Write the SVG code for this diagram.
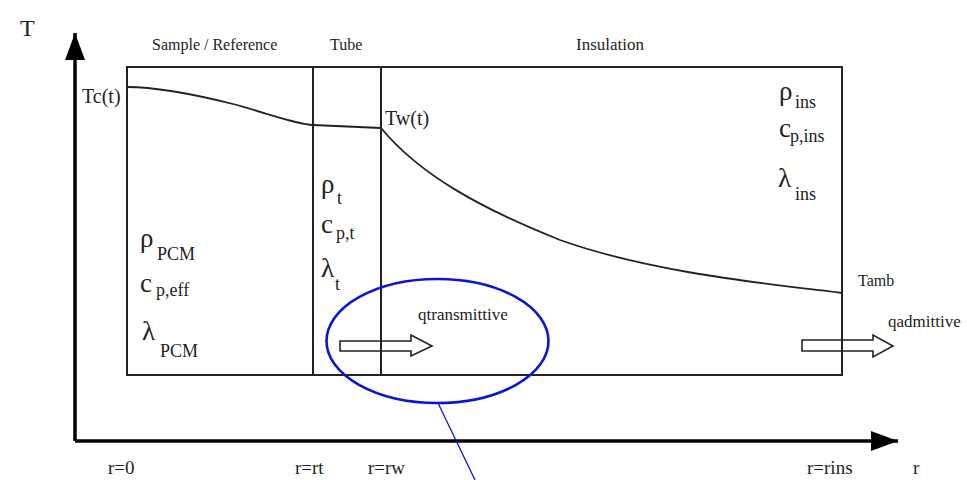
<svg xmlns="http://www.w3.org/2000/svg" width="967" height="480" viewBox="0 0 967 480">
<style>
text{font-family:"Liberation Serif","Times New Roman","DejaVu Serif",serif;fill:#222}
.hd{font-size:16px}
.lb{font-size:20px}
.sym{font-size:27px}
.sub{font-size:18px}
.q{font-size:17px}
.ax{font-size:19px}
.frame{fill:none;stroke:#222;stroke-width:2}
.curve{fill:none;stroke:#222;stroke-width:1.8}
.axis{fill:none;stroke:#000;stroke-width:3.5}
.flow{fill:none;stroke:#222;stroke-width:1.6;stroke-linejoin:miter}
.hl{fill:none;stroke:#0a14d8}
</style>
<defs>
<marker id="ah" markerUnits="userSpaceOnUse" markerWidth="30" markerHeight="22" refX="27" refY="10" orient="auto">
<path d="M0,0 L27,10 L0,20 Z" fill="#000"/>
</marker>
</defs>

<g id="axes">
<line class="axis" x1="75" y1="441" x2="75" y2="33" marker-end="url(#ah)"/>
<line class="axis" x1="75" y1="441" x2="898" y2="441" marker-end="url(#ah)"/>
<text x="20" y="36" style="font-size:24px">T</text>
<text x="913" y="474" class="ax">r</text>
</g>

<g id="sample">
<rect class="frame" x="127" y="67" width="186" height="308"/>
<text x="152" y="50" class="hd">Sample / Reference</text>
<text x="140" y="247" class="sym">ρ</text><text x="157" y="260" class="sub">PCM</text>
<text x="140" y="292" class="sym">c</text><text x="156" y="296" class="sub">p,eff</text>
<text x="142" y="340" class="sym">λ</text><text x="160" y="357" class="sub">PCM</text>
</g>

<g id="tube">
<rect class="frame" x="313" y="67" width="68" height="308"/>
<text x="330" y="50" class="hd">Tube</text>
<text x="321" y="193" class="sym">ρ</text><text x="337" y="204" class="sub">t</text>
<text x="321" y="233" class="sym">c</text><text x="336" y="239" class="sub">p,t</text>
<text x="321" y="277" class="sym">λ</text><text x="335" y="290" class="sub">t</text>
</g>

<g id="insulation">
<rect class="frame" x="381" y="67" width="461" height="308"/>
<text x="576" y="50" class="hd" style="font-size:17px">Insulation</text>
<text x="779" y="100" class="sym">ρ</text><text x="795" y="108" class="sub">ins</text>
<text x="779" y="137" class="sym">c</text><text x="790" y="142" class="sub">p,ins</text>
<text x="778" y="187" class="sym">λ</text><text x="795" y="200" class="sub">ins</text>
</g>

<g id="profile">
<path class="curve" d="M127,87 C155,87 185,92 233,104 C270,114 295,124 313,125 L381,128 C420,175 480,208 560,240 C650,272 760,283 842,293"/>
<text x="82" y="103" class="lb">Tc(t)</text>
<text x="385" y="125" class="lb">Tw(t)</text>
<text x="858" y="286" style="font-size:16px">Tamb</text>
</g>

<g id="connectors">
<polygon class="flow" points="340,341 411,341 411,335 432,346 411,356 411,351 340,351"/>
<polygon class="flow" points="802,340 873,340 873,335 893,346 873,357 873,351 802,351"/>
<ellipse class="hl" cx="437.5" cy="341" rx="111" ry="62" stroke-width="2.6"/>
<line class="hl" x1="438" y1="403" x2="475" y2="480" stroke-width="1.3"/>
</g>

<g id="flux-labels">
<text x="418" y="320" class="q">qtransmittive</text>
<text x="888" y="327" class="q">qadmittive</text>
</g>

<g id="radius-labels">
<text x="108" y="474" class="ax">r=0</text>
<text x="295" y="474" class="ax">r=rt</text>
<text x="368" y="474" class="ax">r=rw</text>
<text x="807" y="474" class="ax">r=rins</text>
</g>
</svg>
